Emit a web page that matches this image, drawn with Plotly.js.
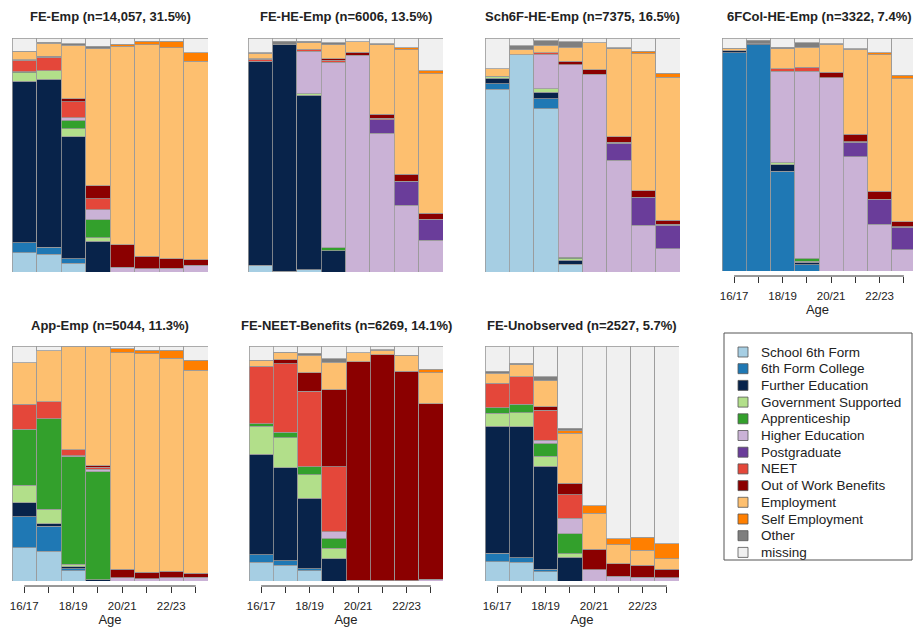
<!DOCTYPE html>
<html><head><meta charset="utf-8">
<script src="https://cdn.plot.ly/plotly-3.0.1.min.js"></script>
<style>body{margin:0;background:#fff}#chart{width:913px;height:629px}</style>
</head><body><div id="chart"></div>
<script>
const categories = ["School 6th Form","6th Form College","Further Education","Government Supported","Apprenticeship","Higher Education","Postgraduate","NEET","Out of Work Benefits","Employment","Self Employment","Other","missing"];
const colors = ["#a6cee3","#1f78b4","#08234a","#b2df8a","#33a02c","#cab2d6","#6a3d9a","#e4473a","#8b0000","#fdbf6f","#ff7f00","#7f7f7f","#f0f0f0"];
const ages = ["16/17","17/18","18/19","19/20","20/21","21/22","22/23","23/24"];
const tickLabels = ["16/17","","18/19","","20/21","","22/23",""];
const panelTitles = ["FE-Emp (n=14,057, 31.5%)","FE-HE-Emp (n=6006, 13.5%)","Sch6F-HE-Emp (n=7375, 16.5%)","6FCol-HE-Emp (n=3322, 7.4%)","App-Emp (n=5044, 11.3%)","FE-NEET-Benefits (n=6269, 14.1%)","FE-Unobserved (n=2527, 5.7%)"];

// rows = categories (same order), columns = ages; values in %
const feEmp = [
 [8.3,7.5,3.8,0,0,0,0,0],
 [4.3,3.1,1.9,0,0,0,0,0],
 [69.0,71.7,52.0,13.2,0,0,0,0],
 [3.6,3.8,3.6,1.4,0,0,0,0],
 [0.3,0,3.6,7.7,0,0,0,0],
 [0,0,1.1,4.3,2.1,1.4,1.7,2.8],
 [0,0,0,0,0,0,0,0],
 [5.0,5.7,6.7,4.7,0,0,0,0],
 [0.3,0.3,1.4,5.6,9.5,5.4,4.0,2.4],
 [3.4,5.7,22.8,58.5,84.8,90.3,90.2,84.8],
 [0,0,0,0,0.9,1.6,2.7,3.6],
 [0.2,0.4,0.7,1.0,0,0,0,0],
 [5.6,1.7,2.4,3.6,2.7,1.3,1.4,6.4]
];
const feHeEmp = [
 [2.6,0.4,1.0,0,0,0,0,0],
 [0.3,0,0,0,0,0,0,0],
 [87.2,96.7,74.5,9.0,0,0,0,0],
 [0,0,0.7,0,0,0,0,0],
 [0,0,0,1.3,0,0,0,0],
 [0,0,18.2,79.4,92.6,59.4,28.5,13.5],
 [0,0,0,0,0,5.7,10.0,8.8],
 [0.8,0,0.7,0.7,0,0.7,0.3,0.3],
 [0.2,0,0,0.7,1.4,1.6,3.0,2.6],
 [2.3,0,2.8,6.0,4.3,29.8,53.2,59.5],
 [0,0,0,0,0,0,0.9,1.4],
 [0.3,1.5,0.7,0.9,0,0.4,0,0],
 [6.3,1.4,1.4,2.0,1.7,2.4,4.1,13.9]
];
const sch6fHeEmp = [
 [78.1,92.9,69.8,3.3,0,0,0,0],
 [2.4,0,4.3,0,0,0,0,0],
 [2.4,0,2.8,1.7,0,0,0,0],
 [0.7,0,1.4,0.7,0,0,0,0],
 [0,0,0,0.7,0,0,0,0],
 [0,0,14.7,82.2,84.5,47.7,19.9,10.0],
 [0,0,0,0,0,7.4,12.1,10.0],
 [0,0,0.7,0,0,0.4,0,0.4],
 [0,0,0,1.4,2.0,2.4,2.8,1.7],
 [3.3,2.1,3.1,6.1,11.4,37.5,58.4,61.2],
 [0,0,0,0,0,0,1.1,1.7],
 [0,1.6,2.1,2.4,0,0.4,0,0],
 [13.1,3.4,1.1,1.5,2.1,4.2,5.7,15.0]
];
const sixFColHeEmp = [
 [0,0,0,0,0,0,0,0],
 [93.6,97.0,42.9,2.7,0,0,0,0],
 [1.0,0.7,2.7,1.1,0,0,0,0],
 [0,0,0.9,0.4,0,0,0,0],
 [0,0,0,1.3,0,0,0,0],
 [0,0,39.3,80.3,83.0,49.1,20.0,9.1],
 [0,0,0,0,0,6.1,10.6,9.7],
 [0,0,1.0,1.7,0,0.3,0.3,0.3],
 [0,0,0,0,2.4,3.1,3.3,2.1],
 [0.7,0,8.6,8.6,11.9,36.5,58.6,61.4],
 [0,0,0,0,0.3,0,0.9,1.4],
 [0.3,1.4,0.7,1.9,0,0.3,0,0],
 [4.4,0.9,3.9,2.0,2.4,4.6,6.3,16.0]
];
const appEmp = [
 [14.2,12.6,4.3,0,0,0,0,0],
 [13.1,10.7,1.0,0,0,0,0,0],
 [6.1,1.1,0.7,0.6,0,0,0,0],
 [7.4,6.1,1.1,0,0,0,0,0],
 [23.8,38.6,45.7,45.9,0,0,0,0],
 [0,0,0.4,1.0,1.3,1.0,1.4,1.7],
 [0,0,0,0,0,0,0,0],
 [10.7,7.1,2.6,0.9,0,0,0,0],
 [0,0,0,0.7,3.6,2.8,2.8,1.7],
 [17.6,21.7,43.9,50.6,92.3,93.0,90.5,86.3],
 [0,0,0,0,1.7,1.4,3.6,4.3],
 [0,0,0,0,0,0,0,0],
 [7.1,2.0,0.3,0.3,1.1,1.8,1.7,6.0]
];
const feNeetBenefits = [
 [7.9,6.8,4.3,0,0,0,0,0],
 [3.2,1.9,1.0,0,0,0,0,0],
 [42.9,39.6,29.9,9.4,0,0,0,0],
 [11.8,12.7,10.1,4.6,0,0,0,0],
 [1.2,2.4,3.3,4.3,0,0,0,0],
 [0,0,0,2.6,0.3,0.2,0.2,0.7],
 [0,0,0,0,0,0,0,0],
 [24.1,29.1,32.2,27.8,0,0,0,0],
 [0.3,1.7,7.9,32.6,92.9,96.0,89.0,74.8],
 [2.3,2.9,7.3,11.5,3.9,1.9,6.6,13.2],
 [0,0,0,0.3,0,0,0.3,1.4],
 [0.3,0.3,1.0,1.4,0,0.3,0,0],
 [6.0,2.6,3.0,5.5,2.9,1.6,3.9,9.9]
];
const feUnobserved = [
 [8.3,8.0,4.0,0,0,0,0,0],
 [3.6,2.0,1.0,0,0,0,0,0],
 [54.0,55.6,43.8,10.2,0,0,0,0],
 [5.4,6.0,4.2,1.4,0,0,0,0],
 [2.4,3.7,5.7,8.5,0,0,0,0],
 [0,0,1.1,6.6,4.7,2.1,1.6,1.4],
 [0,0,0,0,0,0,0,0],
 [10.5,11.7,12.9,10.0,0,0,0,0],
 [0,0,1.4,4.9,8.9,5.2,5.0,3.7],
 [4.3,5.0,11.2,21.2,15.2,8.2,6.4,4.3],
 [0,0,0,1.1,3.2,2.4,5.7,6.4],
 [0.7,0.7,1.7,1.0,0,0,0,0],
 [10.8,7.3,13.0,35.1,68.0,82.1,81.3,84.2]
];

const panels = [feEmp, feHeEmp, sch6fHeEmp, sixFColHeEmp, appEmp, feNeetBenefits, feUnobserved];

// layout geometry (pixels)
const W = 913, H = 629;
const boxes = [
  {x0:12,x1:208,y0:38,y1:272,axis:false},
  {x0:248,x1:443,y0:38,y1:272,axis:false},
  {x0:485,x1:680,y0:38,y1:272,axis:false},
  {x0:722,x1:916,y0:38,y1:271,axis:true,axisY:276,standoff:4},
  {x0:12,x1:208,y0:346,y1:581,axis:true,axisY:586,standoff:1},
  {x0:249,x1:443,y0:346,y1:581,axis:true,axisY:586,standoff:1},
  {x0:485,x1:679,y0:346,y1:581,axis:true,axisY:586,standoff:1}
];
const legendBox = {x0:724, x1:912, y0:333, y1:560, firstY:352, step:16.7};

const px = v => v / W;
const py = v => (H - v) / H;

const traces = [];
const layout = {
  width: W, height: H, margin:{l:0,r:0,t:0,b:0},
  paper_bgcolor:'#fff', plot_bgcolor:'#fff',
  barmode:'stack', bargap:0,
  font:{family:'Liberation Sans, Arial, sans-serif', color:'#222'},
  showlegend:false,
  annotations:[], shapes:[]
};

panels.forEach((data, p) => {
  const k = p+1;
  const b = boxes[p];
  const xn = 'x'+(k===1?'':k), yn = 'y'+(k===1?'':k);
  categories.forEach((cat, c) => {
    traces.push({
      type:'bar', x: ages, y: data[c].map(v => v === 0 ? null : v),
      name: cat, marker:{color:colors[c], line:{color:'#9a9a9a', width:0.8}},
      xaxis: xn, yaxis: yn, showlegend:false
    });
  });
  const xClip = Math.min(b.x1, W);
  const pxPerBar = (b.x1 - b.x0)/8;
  const xmax = -0.5 + (xClip - b.x0)/pxPerBar;
  const xa = {
    domain:[px(b.x0), px(xClip)], range:[-0.5, xmax], type:'category',
    showgrid:false, zeroline:false, showline:false, fixedrange:true
  };
  if (b.axis) {
    Object.assign(xa, {
      anchor:'free', position:py(b.axisY),
      tickmode:'array', tickvals:ages, ticktext:tickLabels,
      ticks:'outside', ticklen:6, tickwidth:1, tickcolor:'#333',
      ticklabelstandoff:3,
      tickfont:{size:11.5, color:'#222'},
      title:{text:'Age', font:{size:13, color:'#222'}, standoff:b.standoff}
    });
    layout.shapes.push({type:'line', xref:xn, yref:'paper', x0:0, x1:7,
      y0:py(b.axisY), y1:py(b.axisY), line:{color:'#333', width:1}});
  } else {
    Object.assign(xa, {anchor:yn, visible:false});
  }
  layout['xaxis'+(k===1?'':k)] = xa;
  layout['yaxis'+(k===1?'':k)] = {
    domain:[py(b.y1), py(b.y0)], range:[0,100], anchor:xn,
    visible:false, fixedrange:true
  };
  layout.annotations.push({
    text:'<b>'+panelTitles[p]+'</b>', xref:'paper', yref:'paper',
    x:px((b.x0+b.x1)/2), y:py(b.y0-21), xanchor:'center', yanchor:'middle',
    showarrow:false, font:{size:13, color:'#222'}
  });
});

// legend (drawn as shapes + text)
layout.shapes.push({type:'rect', xref:'paper', yref:'paper',
  x0:px(legendBox.x0), x1:px(legendBox.x1), y0:py(legendBox.y1), y1:py(legendBox.y0),
  line:{color:'#555', width:1}, fillcolor:'rgba(0,0,0,0)'});
categories.forEach((cat, c) => {
  const cy = legendBox.firstY + c*legendBox.step;
  layout.shapes.push({type:'rect', xref:'paper', yref:'paper',
    x0:px(738), x1:px(748), y0:py(cy+5), y1:py(cy-5),
    fillcolor:colors[c], line:{color:'#555', width:0.8}});
  layout.annotations.push({text:cat, xref:'paper', yref:'paper',
    x:px(759), y:py(cy), xanchor:'left', yanchor:'middle', showarrow:false,
    font:{size:13.5, color:'#222'}});
});

Plotly.newPlot('chart', traces, layout, {displayModeBar:false, staticPlot:true});
</script>
</body></html>
